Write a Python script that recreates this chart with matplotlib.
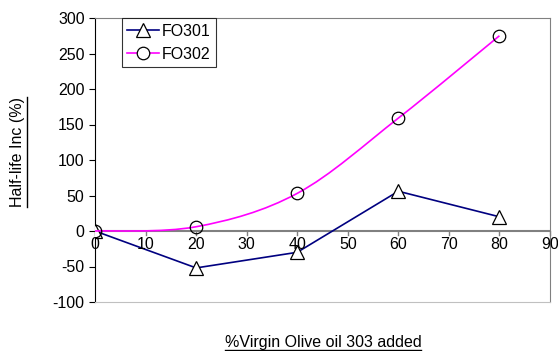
import numpy as np
import matplotlib.pyplot as plt
from matplotlib.path import Path
from matplotlib.patches import PathPatch
from matplotlib.lines import Line2D

plt.rcParams['font.family'] = ['Liberation Sans', 'DejaVu Sans']
plt.rcParams['axes.unicode_minus'] = False

# data
pct_added = [0, 20, 40, 60, 80]
fo301 = [0, -52, -30, 56, 20]
fo302 = [0, 6, 53, 159, 275]

x_ticks = np.arange(0, 91, 10)
y_ticks = np.arange(-100, 301, 50)

navy = '#000080'
magenta = '#ff00ff'
fs = 11.5


def smooth_path(xs, ys):
    # Excel-style smoothed line (Catmull-Rom as cubic Bezier)
    pts = np.column_stack([xs, ys]).astype(float)
    verts = [pts[0]]
    codes = [Path.MOVETO]
    n = len(pts)
    for i in range(n - 1):
        p0 = pts[i - 1] if i > 0 else pts[i]
        p1 = pts[i]
        p2 = pts[i + 1]
        p3 = pts[i + 2] if i + 2 < n else pts[i + 1]
        c1 = p1 + (p2 - p0) / 6.0
        c2 = p2 - (p3 - p1) / 6.0
        verts += [c1, c2, p2]
        codes += [Path.CURVE4] * 3
    return Path(verts, codes)


fig = plt.figure(figsize=(5.58, 3.51), dpi=100)
ax = fig.add_axes([95 / 558, 1 - 302 / 351, 455 / 558, 284 / 351])

ax.plot(pct_added, fo301, color=navy, lw=1.2, marker='^', ms=9.5,
        mfc='white', mec='black', mew=0.9, label='FO301', zorder=3)
ax.add_patch(PathPatch(smooth_path(pct_added, fo302), fc='none',
                       ec=magenta, lw=1.2, zorder=3))
ax.plot(pct_added, fo302, ls='none', marker='o', ms=9,
        mfc='none', mec='black', mew=0.9, zorder=4)
# legend proxy for the smoothed series
ax.plot([], [], color=magenta, lw=1.2, marker='o', ms=9,
        mfc='white', mec='black', mew=0.9, label='FO302')

ax.set_xlim(0, 90)
ax.set_ylim(-100, 300)
ax.set_yticks(y_ticks)
ax.set_xticks(x_ticks)

ax.spines['left'].set_color('black')
for s in ['top', 'right']:
    ax.spines[s].set_color('#808080')
ax.spines['bottom'].set_color('#c0c0c0')

# x axis drawn at y = 0
ax.axhline(0, color='#808080', lw=1.5, zorder=2)
ax.tick_params(axis='x', length=0, labelbottom=False)
for xv in x_ticks:
    ax.plot([xv, xv], [0, -6], color='#808080', lw=1, clip_on=False, zorder=2)
    ax.text(xv, -8, str(xv), ha='center', va='top', fontsize=fs)
ax.tick_params(axis='y', direction='out', length=4, labelsize=fs, color='black')

leg = ax.legend(loc='upper left', bbox_to_anchor=(0.059, 1.0), fontsize=fs,
                frameon=True, fancybox=False, edgecolor='black',
                handlelength=2.0, handletextpad=0.15, borderpad=0.35,
                labelspacing=0.5, borderaxespad=0.0)
leg.get_frame().set_linewidth(0.8)

# underlined axis titles
xl = fig.text(323 / 558, 1 - 342 / 351, '%Virgin Olive oil 303 added',
              ha='center', va='center', fontsize=fs)
yl = fig.text(18 / 558, 1 - 152 / 351, 'Half-life Inc (%)', rotation=90,
              ha='center', va='center', fontsize=fs)

fig.canvas.draw()
r = fig.canvas.get_renderer()
inv = fig.transFigure.inverted()
bb = xl.get_window_extent(r).transformed(inv)
fig.add_artist(Line2D([bb.x0, bb.x1], [bb.y0 - 0.002, bb.y0 - 0.002],
                      color='black', lw=1.0))
bb = yl.get_window_extent(r).transformed(inv)
fig.add_artist(Line2D([bb.x1 + 0.003, bb.x1 + 0.003], [bb.y0, bb.y1],
                      color='black', lw=1.0))

fig.savefig('out.png', dpi=100)
